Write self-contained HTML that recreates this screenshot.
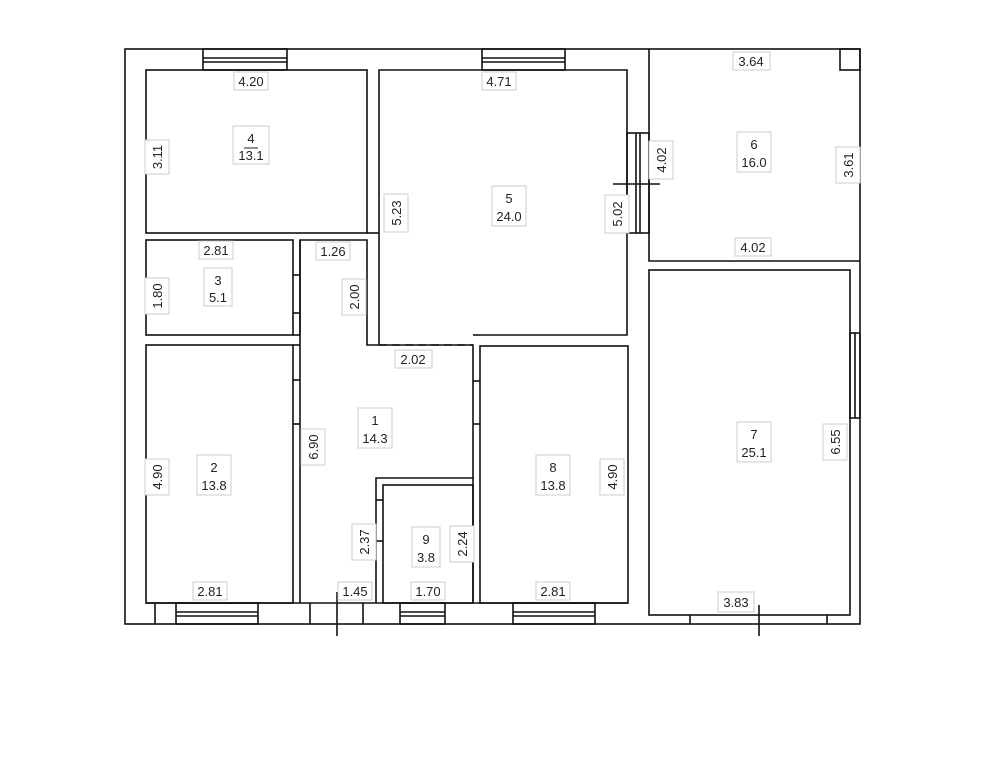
<!DOCTYPE html>
<html><head><style>
html,body{margin:0;padding:0;background:#fff;}
svg{display:block;}
text{font-family:"Liberation Sans",sans-serif;font-size:13px;fill:#222;}
.l{fill:#fff;stroke:#ccc;stroke-width:1;}
</style></head><body>
<svg width="991" height="768" viewBox="0 0 991 768" xmlns="http://www.w3.org/2000/svg">
<g fill="none" stroke="#111" stroke-width="1.6">
<!-- outer -->
<rect x="125" y="49" width="735" height="575"/>
<!-- room 4 -->
<rect x="146" y="70" width="221" height="163"/>
<!-- room 3 -->
<rect x="146" y="240" width="147" height="95"/>
<!-- room 2 -->
<rect x="146" y="345" width="147" height="258"/>
<!-- corridor 1 -->
<polyline points="300,603 300,240 367,240 367,345 473,345 473,478 376,478 376,603"/>
<line x1="300" y1="240" x2="300" y2="335"/><line x1="293" y1="335" x2="300" y2="335"/>
<line x1="293" y1="345" x2="300" y2="345"/>
<!-- room 5 -->
<polyline points="379,233 379,70 627,70 627,335 480,335"/>
<line x1="379" y1="233" x2="379" y2="345"/>
<line x1="367" y1="233" x2="379" y2="233"/>
<line x1="379" y1="345" x2="473" y2="345" stroke-dasharray="8,5"/>
<line x1="473" y1="335" x2="480" y2="335"/>
<!-- room 8 -->
<rect x="480" y="346" width="148" height="257"/>
<!-- room 9 -->
<rect x="383" y="485" width="90" height="118"/>
<line x1="473" y1="478" x2="473" y2="603"/>
<!-- room 6 -->
<polyline points="649,49 649,261 860,261"/>
<rect x="840" y="49" width="20" height="21"/>
<!-- room 7 -->
<rect x="649" y="270" width="201" height="345"/>
<!-- bottom wall interior line segments -->
<line x1="146" y1="603" x2="628" y2="603"/>
<!-- windows -->
<rect x="203" y="49" width="84" height="21"/><line x1="203" y1="58" x2="287" y2="58"/><line x1="203" y1="62" x2="287" y2="62"/>
<rect x="482" y="49" width="83" height="21"/><line x1="482" y1="58" x2="565" y2="58"/><line x1="482" y1="62" x2="565" y2="62"/>
<rect x="176" y="603" width="82" height="21"/><line x1="176" y1="612" x2="258" y2="612"/><line x1="176" y1="616" x2="258" y2="616"/>
<rect x="400" y="603" width="45" height="21"/><line x1="400" y1="612" x2="445" y2="612"/><line x1="400" y1="616" x2="445" y2="616"/>
<rect x="513" y="603" width="82" height="21"/><line x1="513" y1="612" x2="595" y2="612"/><line x1="513" y1="616" x2="595" y2="616"/>
<rect x="627" y="133" width="22" height="100"/><line x1="636" y1="133" x2="636" y2="233"/><line x1="640" y1="133" x2="640" y2="233"/>
<rect x="850" y="333" width="10" height="85"/><line x1="855" y1="333" x2="855" y2="418"/>
<!-- door/ticks -->
<line x1="155" y1="603" x2="155" y2="624"/>
<line x1="310" y1="603" x2="310" y2="624"/><line x1="363" y1="603" x2="363" y2="624"/>
<line x1="690" y1="615" x2="690" y2="624"/><line x1="827" y1="615" x2="827" y2="624"/>
<line x1="337" y1="592" x2="337" y2="636"/>
<line x1="759" y1="605" x2="759" y2="636"/>
<line x1="613" y1="184" x2="660" y2="184"/>
<line x1="293" y1="380" x2="300" y2="380"/><line x1="293" y1="424" x2="300" y2="424"/>
<line x1="293" y1="275" x2="300" y2="275"/><line x1="293" y1="313" x2="300" y2="313"/>
<line x1="473" y1="381" x2="480" y2="381"/><line x1="473" y1="424" x2="480" y2="424"/>
<line x1="376" y1="500" x2="383" y2="500"/><line x1="376" y1="541" x2="383" y2="541"/>
</g>
<!-- labels horizontal -->
<g>
<rect class="l" x="234" y="72" width="34" height="18"/><text x="251" y="86" text-anchor="middle">4.20</text>
<rect class="l" x="482" y="72" width="34" height="18"/><text x="499" y="86" text-anchor="middle">4.71</text>
<rect class="l" x="733" y="52" width="37" height="18"/><text x="751" y="66" text-anchor="middle">3.64</text>
<rect class="l" x="199" y="241" width="34" height="18"/><text x="216" y="255" text-anchor="middle">2.81</text>
<rect class="l" x="316" y="242" width="34" height="18"/><text x="333" y="256" text-anchor="middle">1.26</text>
<rect class="l" x="395" y="350" width="37" height="18"/><text x="413" y="364" text-anchor="middle">2.02</text>
<rect class="l" x="735" y="238" width="36" height="18"/><text x="753" y="252" text-anchor="middle">4.02</text>
<rect class="l" x="193" y="582" width="34" height="18"/><text x="210" y="596" text-anchor="middle">2.81</text>
<rect class="l" x="338" y="582" width="34" height="18"/><text x="355" y="596" text-anchor="middle">1.45</text>
<rect class="l" x="411" y="582" width="34" height="18"/><text x="428" y="596" text-anchor="middle">1.70</text>
<rect class="l" x="536" y="582" width="34" height="18"/><text x="553" y="596" text-anchor="middle">2.81</text>
<rect class="l" x="718" y="592" width="36" height="20"/><text x="736" y="607" text-anchor="middle">3.83</text>
</g>
<!-- vertical labels -->
<g>
<g transform="translate(157,157) rotate(-90)"><rect class="l" x="-17" y="-12" width="34" height="24"/><text x="0" y="5" text-anchor="middle">3.11</text></g>
<g transform="translate(396,213) rotate(-90)"><rect class="l" x="-19" y="-12" width="38" height="24"/><text x="0" y="5" text-anchor="middle">5.23</text></g>
<g transform="translate(617,214) rotate(-90)"><rect class="l" x="-19" y="-12" width="38" height="24"/><text x="0" y="5" text-anchor="middle">5.02</text></g>
<g transform="translate(661,160) rotate(-90)"><rect class="l" x="-19" y="-12" width="38" height="24"/><text x="0" y="5" text-anchor="middle">4.02</text></g>
<g transform="translate(848,165) rotate(-90)"><rect class="l" x="-18" y="-12" width="36" height="24"/><text x="0" y="5" text-anchor="middle">3.61</text></g>
<g transform="translate(157,296) rotate(-90)"><rect class="l" x="-18" y="-12" width="36" height="24"/><text x="0" y="5" text-anchor="middle">1.80</text></g>
<g transform="translate(354,297) rotate(-90)"><rect class="l" x="-18" y="-12" width="36" height="24"/><text x="0" y="5" text-anchor="middle">2.00</text></g>
<g transform="translate(157,477) rotate(-90)"><rect class="l" x="-18" y="-12" width="36" height="24"/><text x="0" y="5" text-anchor="middle">4.90</text></g>
<g transform="translate(313,447) rotate(-90)"><rect class="l" x="-18" y="-12" width="36" height="24"/><text x="0" y="5" text-anchor="middle">6.90</text></g>
<g transform="translate(364,542) rotate(-90)"><rect class="l" x="-18" y="-12" width="36" height="24"/><text x="0" y="5" text-anchor="middle">2.37</text></g>
<g transform="translate(462,544) rotate(-90)"><rect class="l" x="-18" y="-12" width="36" height="24"/><text x="0" y="5" text-anchor="middle">2.24</text></g>
<g transform="translate(612,477) rotate(-90)"><rect class="l" x="-18" y="-12" width="36" height="24"/><text x="0" y="5" text-anchor="middle">4.90</text></g>
<g transform="translate(835,442) rotate(-90)"><rect class="l" x="-18" y="-12" width="36" height="24"/><text x="0" y="5" text-anchor="middle">6.55</text></g>
</g>
<!-- room labels -->
<g text-anchor="middle">
<rect class="l" x="233" y="126" width="36" height="38"/><text x="251" y="143">4</text><line x1="244" y1="148" x2="258" y2="148" stroke="#222"/><text x="251" y="160">13.1</text>
<rect class="l" x="204" y="268" width="28" height="38"/><text x="218" y="285">3</text><text x="218" y="302">5.1</text>
<rect class="l" x="197" y="455" width="34" height="40"/><text x="214" y="472">2</text><text x="214" y="490">13.8</text>
<rect class="l" x="358" y="408" width="34" height="40"/><text x="375" y="425">1</text><text x="375" y="443">14.3</text>
<rect class="l" x="492" y="186" width="34" height="40"/><text x="509" y="203">5</text><text x="509" y="221">24.0</text>
<rect class="l" x="737" y="132" width="34" height="40"/><text x="754" y="149">6</text><text x="754" y="167">16.0</text>
<rect class="l" x="737" y="422" width="34" height="40"/><text x="754" y="439">7</text><text x="754" y="457">25.1</text>
<rect class="l" x="536" y="455" width="34" height="40"/><text x="553" y="472">8</text><text x="553" y="490">13.8</text>
<rect class="l" x="412" y="527" width="28" height="40"/><text x="426" y="544">9</text><text x="426" y="562">3.8</text>
</g>
</svg>
</body></html>
